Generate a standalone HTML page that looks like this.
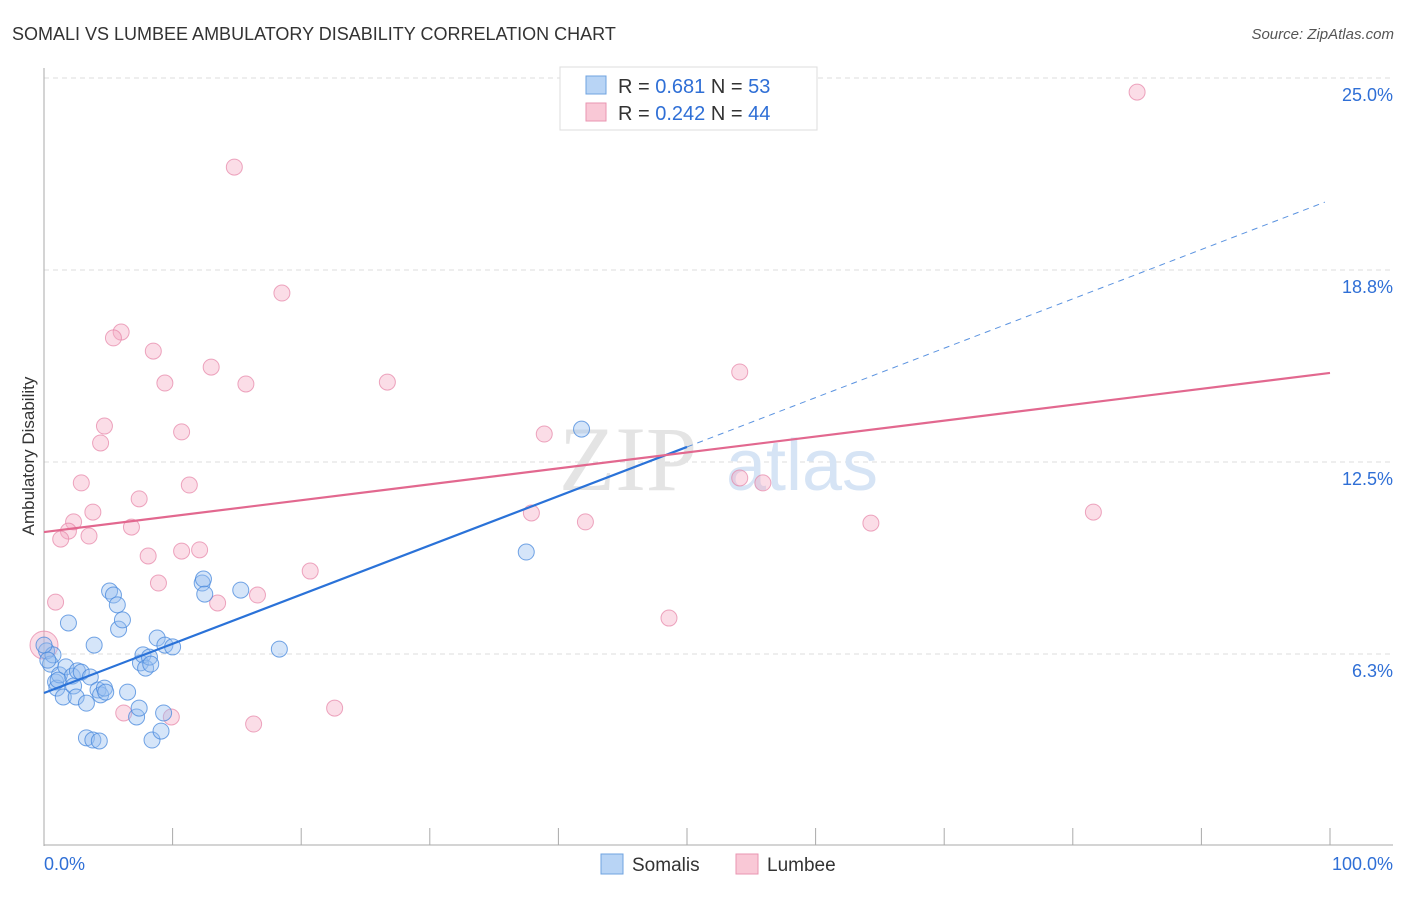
<!DOCTYPE html>
<html><head><meta charset="utf-8"><style>
body{margin:0;background:#fff;font-family:"Liberation Sans",sans-serif;}
</style></head><body>
<svg id="chart" width="1406" height="892" xmlns="http://www.w3.org/2000/svg" font-family="Liberation Sans, sans-serif">
<text x="12" y="40" font-size="18" fill="#333">SOMALI VS LUMBEE AMBULATORY DISABILITY CORRELATION CHART</text>
<text x="1394" y="39" font-size="15" fill="#555" text-anchor="end" font-style="italic">Source: ZipAtlas.com</text>
<text transform="translate(34,456) rotate(-90)" font-size="17" fill="#333" text-anchor="middle">Ambulatory Disability</text>
<g id="grid"></g>
<g id="watermark">
<text x="628" y="490" font-size="92" fill="#e4e4e4" font-family="Liberation Serif, serif" text-anchor="middle">ZIP</text>
<text x="802" y="490" font-size="72" fill="#d6e4f5" text-anchor="middle">atlas</text>
</g>
<g id="axes"></g>
<g id="pts"></g>
<g id="lines"></g>
<g>
<rect x="560" y="67" width="257" height="63" fill="#fff" stroke="#ddd"/>
<rect x="586" y="76" width="20" height="18" fill="#b8d4f5" stroke="#6fa3e0"/>
<text x="618" y="93" font-size="20" fill="#333">R = <tspan fill="#2f6fd6">0.681</tspan>   N = <tspan fill="#2f6fd6">53</tspan></text>
<rect x="586" y="103" width="20" height="18" fill="#f9c8d6" stroke="#e996b1"/>
<text x="618" y="120" font-size="20" fill="#333">R = <tspan fill="#2f6fd6">0.242</tspan>   N = <tspan fill="#2f6fd6">44</tspan></text>
</g>
<g>
<rect x="601" y="854" width="22" height="20" fill="#b8d4f5" stroke="#6fa3e0"/>
<text x="632" y="871" font-size="19" fill="#333">Somalis</text>
<rect x="736" y="854" width="22" height="20" fill="#f9c8d6" stroke="#e996b1"/>
<text x="767" y="871" font-size="19" fill="#333">Lumbee</text>
</g>
</svg>
<script>
const yTicks=[6.25,12.5,18.75,25];
const yTickLabels=["6.3%","12.5%","18.8%","25.0%"];
const xTickLabels=["0.0%","100.0%"];
const somaliX=[0.2,0.5,0.7,0.9,1.0,1.2,1.5,1.7,1.9,2.2,2.3,2.5,2.6,2.9,3.3,3.6,3.9,4.2,4.4,4.7,4.8,5.1,5.4,5.7,5.8,6.1,6.5,3.3,3.8,4.3,7.2,7.4,7.5,7.7,7.9,8.2,8.3,8.4,8.8,9.1,9.3,9.4,10.0,12.3,12.4,12.5,15.3,18.3,37.5,41.8,0,0.3,1.1];
const somaliY=[6.35,5.92,6.22,5.34,5.14,5.57,4.85,5.83,7.26,5.53,5.21,4.85,5.70,5.66,4.65,5.50,6.54,5.08,4.92,5.14,5.01,8.30,8.17,7.85,7.06,7.36,5.01,3.52,3.45,3.42,4.20,4.49,5.96,6.22,5.79,6.15,5.92,3.45,6.77,3.74,4.33,6.54,6.48,8.56,8.69,8.20,8.33,6.41,9.57,13.57,6.54,6.05,5.40];
const lumbeeX=[85.0,14.8,18.5,6.0,5.4,8.5,13.0,9.4,15.7,26.7,54.1,4.7,10.7,4.4,38.9,2.9,7.4,11.3,3.8,2.3,1.9,6.8,1.3,3.5,8.1,10.7,12.1,37.9,42.1,54.1,55.9,64.3,81.6,20.7,8.9,16.6,13.5,0.9,48.6,22.6,6.2,9.9,16.3,0];
const lumbeeY=[24.54,22.1,18.0,16.73,16.54,16.11,15.59,15.07,15.04,15.1,15.43,13.67,13.48,13.12,13.41,11.82,11.30,11.75,10.87,10.55,10.25,10.38,9.99,10.09,9.44,9.60,9.64,10.84,10.55,11.98,11.82,10.51,10.87,8.95,8.56,8.17,7.91,7.94,7.42,4.49,4.33,4.20,3.97,6.54];
const somaliTrend=[4.98,12.99,20.96]; // at x=0,50,99.6
const lumbeeTrend=[10.22,15.4]; // at x=0,100
const NS="http://www.w3.org/2000/svg";
const sx=v=>44+v*12.86, sy=v=>846-v*30.72;
function mk(t,a,p){const e=document.createElementNS(NS,t);for(const k in a)e.setAttribute(k,a[k]);(p||document.getElementById('chart')).appendChild(e);return e;}
const grid=document.getElementById('grid');
yTicks.forEach((t,i)=>{
 const l=mk('line',{x1:44,x2:1393,y1:sy(t),y2:sy(t),stroke:'#ddd','stroke-dasharray':'5,4'},grid);
 
 const tx=mk('text',{x:1393,y:sy(t)+23,'font-size':18,fill:'#2f6fd6','text-anchor':'end'},grid);
 tx.textContent=yTickLabels[i];
 
});
const ax=document.getElementById('axes');
mk('line',{x1:44,x2:44,y1:68,y2:846,stroke:'#aaa'},ax);
mk('line',{x1:44,x2:1393,y1:845,y2:845,stroke:'#aaa'},ax);
for(let i=0;i<=10;i++){const t=mk('line',{x1:sx(i*10),x2:sx(i*10),y1:828,y2:845,stroke:'#aaa'},ax);}
[[0,'start'],[100,'end']].forEach((p,i)=>{const t=mk('text',{x:i?1393:44,y:870,'font-size':18,fill:'#2f6fd6','text-anchor':p[1]},ax);t.textContent=xTickLabels[i];});
const pts=document.getElementById('pts');
lumbeeX.forEach((x,i)=>{const c=mk('circle',{cx:sx(x),cy:sy(lumbeeY[i]),r:i==lumbeeX.length-1?14:8,fill:'rgba(245,170,195,0.4)',stroke:'rgba(230,130,165,0.7)','stroke-width':1},pts);
});
somaliX.forEach((x,i)=>{const c=mk('circle',{cx:sx(x),cy:sy(somaliY[i]),r:8,fill:'rgba(150,190,240,0.4)',stroke:'rgba(70,135,220,0.75)','stroke-width':1},pts);
});
const ln=document.getElementById('lines');
let a=mk('line',{x1:sx(0),y1:sy(somaliTrend[0]),x2:sx(50),y2:sy(somaliTrend[1]),stroke:'#2a72d8','stroke-width':2.2},ln);

a=mk('line',{x1:sx(50),y1:sy(somaliTrend[1]),x2:sx(99.6),y2:sy(somaliTrend[2]),stroke:'#5b93e0','stroke-width':1,'stroke-dasharray':'6,5'},ln);

a=mk('line',{x1:sx(0),y1:sy(lumbeeTrend[0]),x2:sx(100),y2:sy(lumbeeTrend[1]),stroke:'#e2688f','stroke-width':2.2},ln);

</script>
</body></html>
